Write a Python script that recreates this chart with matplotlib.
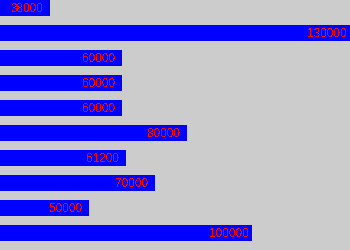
import matplotlib
matplotlib.use("Agg")
import matplotlib.pyplot as plt

values = [38000, 130000, 60000, 60000, 60000, 80000, 61200, 70000, 50000, 100000]
labels = [str(v) for v in values]

plt.rcParams['text.antialiased'] = False

fig = plt.figure(figsize=(3.5, 2.5), dpi=100, facecolor="#cccccc")
ax = fig.add_axes([0, 0, 1, 1])
ax.set_facecolor("#cccccc")

pos = list(range(len(values)))
ax.barh(pos, [v - 22543 for v in values], left=22543, height=0.64,
        color="#0000ff", antialiased=False)

for p, v, t in zip(pos, values, labels):
    ax.annotate(t, xy=(v, p), xytext=(-23, -1), textcoords="offset pixels",
                ha="center", va="center", color="#ff0000",
                family=["Liberation Sans Narrow", "Liberation Sans"], fontsize=8.5)

ax.set_xlim(22543, 130000)
ax.set_ylim(9.68, -0.32)
ax.axis("off")

fig.savefig("out.png", dpi=100, facecolor="#cccccc")
